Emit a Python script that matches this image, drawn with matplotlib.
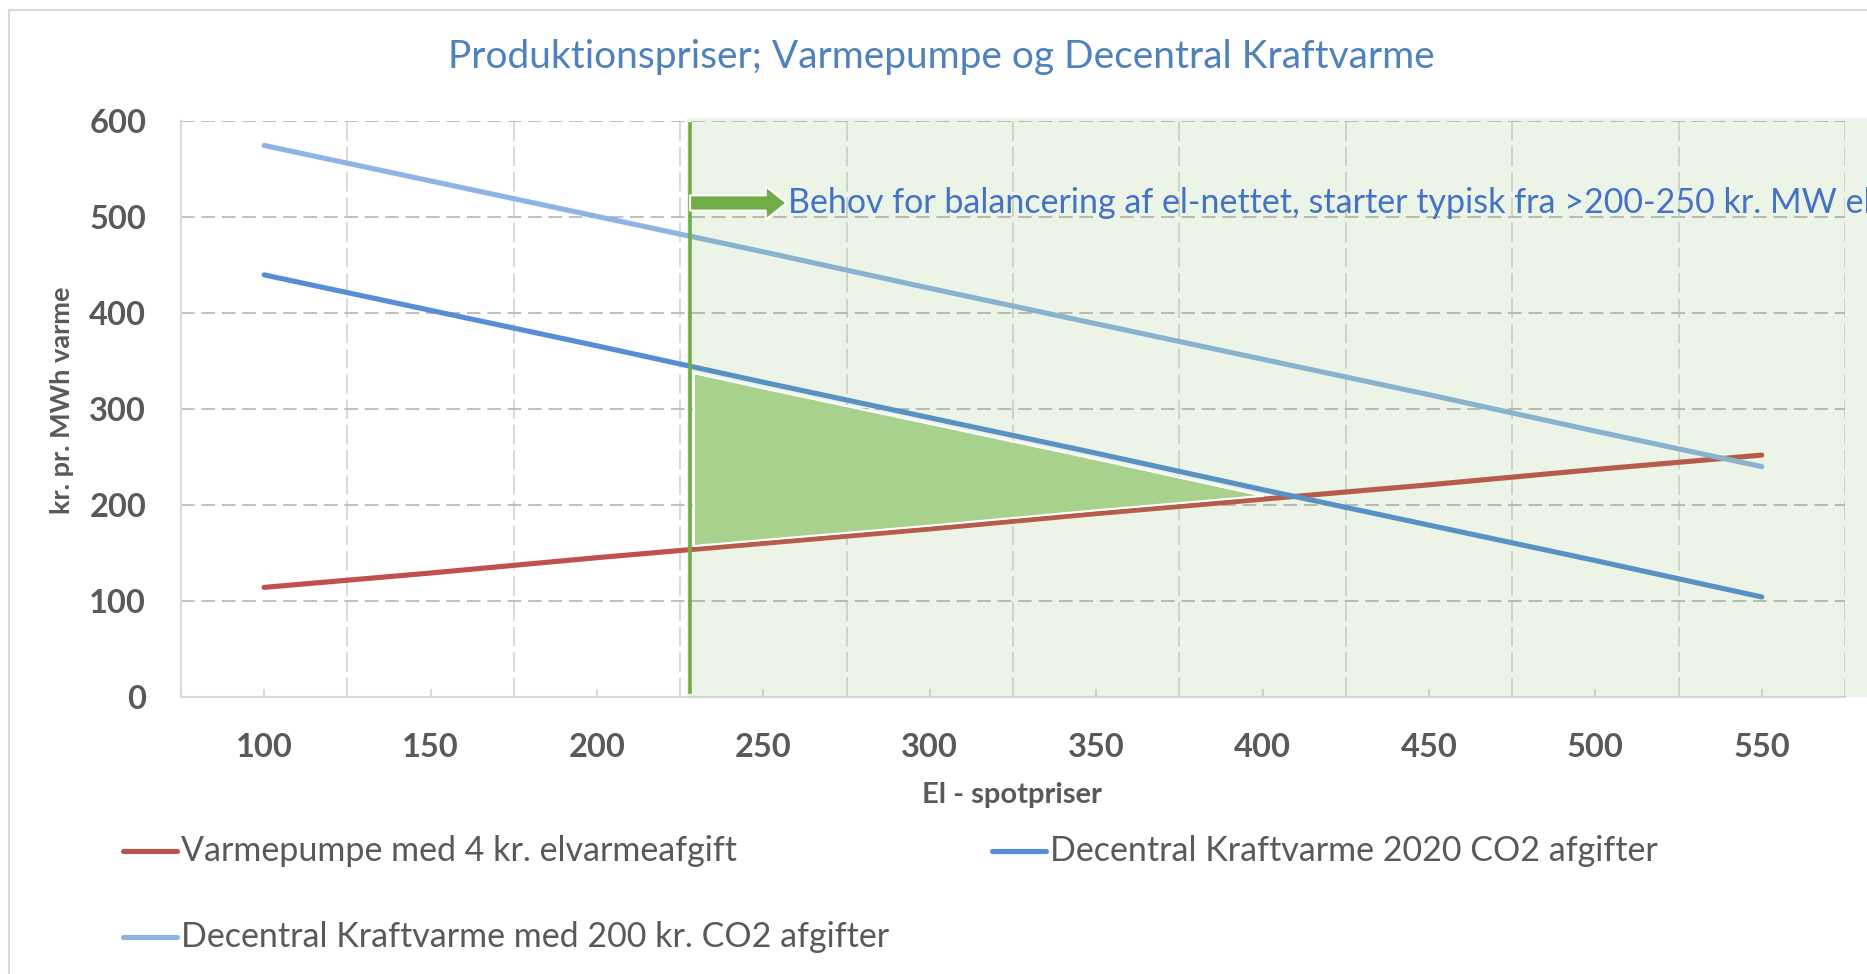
import numpy as np
import matplotlib
matplotlib.use("Agg")
import matplotlib.pyplot as plt
from matplotlib.patches import Rectangle
from matplotlib.lines import Line2D

plt.rcParams['font.family'] = ['Lato', 'DejaVu Sans']

# data
spot = [100, 150, 200, 250, 300, 350, 400, 450, 500, 550]
varmepumpe = [114, 129, 145, 160, 175, 191, 206, 221, 237, 252]
kv_2020 = [440, 403, 366, 328, 291, 254, 216, 179, 142, 104]
kv_200 = [575, 538, 501, 464, 426, 389, 352, 315, 277, 240]

labels = ["Varmepumpe med 4 kr. elvarmeafgift",
          "Decentral Kraftvarme 2020 CO2 afgifter",
          "Decentral Kraftvarme med 200 kr. CO2 afgifter"]
colors = ["#c0504d", "#558ed5", "#8db4e2"]

balance_start = 228
note = "Behov for balancering af el-nettet, starter typisk fra >200-250 kr. MW el"
title = "Produktionspriser; Varmepumpe og Decentral Kraftvarme"

grey = "#595959"
green = "#70ad47"

fig = plt.figure(figsize=(18.67, 9.74), dpi=100)
ax = fig.add_axes([0.0969, 0.2847, 0.8913, 0.5906])

# outer chart border
fig.add_artist(Rectangle((0.0046, -0.1), 2, 1.0897, transform=fig.transFigure,
                         fill=False, ec="#d9d9d9", lw=1.5))

ax.set_xlim(75, 575)
ax.set_ylim(0, 600)
ax.set_xticks(spot)
ax.set_xticks(np.arange(125, 576, 50), minor=True)
ax.set_yticks(range(0, 601, 100))

ax.grid(axis='y', which='major', color="#bfbfbf", lw=1.4, ls=(0, (7, 3.5)), zorder=0)
ax.grid(axis='x', which='minor', color="#d9d9d9", lw=1.4, ls=(0, (10, 3)), zorder=0)
ax.set_axisbelow(True)
for s in ['top', 'right']:
    ax.spines[s].set_visible(False)
for s in ['left', 'bottom']:
    ax.spines[s].set_color("#d9d9d9")
    ax.spines[s].set_linewidth(1.5)

ax.tick_params(axis='x', which='major', direction='in', length=6, width=1.5,
               color="#d9d9d9", pad=26)
ax.tick_params(axis='x', which='minor', length=0)
ax.tick_params(axis='y', length=0, pad=25)
for t in ax.get_xticklabels() + ax.get_yticklabels():
    t.set_fontsize(23.5)
    t.set_fontweight('bold')
    t.set_color(grey)

# series
series = [varmepumpe, kv_2020, kv_200]
lines = []
for vals, c in zip(series, colors):
    ln, = ax.plot(spot, vals, color=c, lw=3.7, solid_capstyle='round', zorder=2)
    lines.append(ln)

# green region and marker line
ax.add_patch(Rectangle((balance_start - 1, 0), 600, 604, fc=green, alpha=0.13,
                       ec='none', clip_on=False, zorder=3))
ax.plot([balance_start, balance_start], [5, 597], color=green, lw=2.6, zorder=5)

# triangle between the CHP 2020 line and the heat pump line
xx = np.linspace(balance_start + 1, 420, 300)
top = np.interp(xx, spot, kv_2020) - 6
bot = np.interp(xx, spot, varmepumpe) + 4
ax.fill_between(xx, bot, top, where=top > bot, interpolate=True,
                fc="#a9d18e", ec="white", lw=1.5, zorder=4)

# arrow and note
ax.annotate('', xy=(257, 515), xytext=(balance_start, 515),
            arrowprops=dict(arrowstyle='simple,head_length=0.75,head_width=1.2,tail_width=0.55',
                            fc=green, ec='white', lw=1.5, mutation_scale=20,
                            shrinkA=0, shrinkB=0), zorder=6)
ax.text(257.5, 515, note, color="#4472c4", fontsize=24.5, va='center', ha='left',
        clip_on=False, zorder=6)

fig.text(941 / 1867, 1 - 57 / 974, title, color="#4f81bd", fontsize=28,
         ha='center', va='center')
fig.text(62 / 1867, 1 - 400 / 974, "kr. pr. MWh varme", rotation=90,
         fontsize=19.5, fontweight='bold', color=grey, ha='center', va='center')
fig.text(1012 / 1867, 1 - 795 / 974, "El - spotpriser", fontsize=21,
         fontweight='bold', color=grey, ha='center', va='center')

# legend laid out like the original (two columns, three entries)
leg_pos = [(123, 851), (992, 851), (123, 937)]
for (px, py), ln, lab in zip(leg_pos, lines, labels):
    x0 = px / 1867
    y0 = 1 - py / 974
    fig.add_artist(Line2D([x0, x0 + 54 / 1867], [y0, y0], transform=fig.transFigure,
                          color=ln.get_color(), lw=3.7, solid_capstyle='round'))
    fig.text(x0 + 58 / 1867, y0, lab, fontsize=24.5, color=grey, ha='left', va='center')

fig.savefig("out.png", dpi=100)
